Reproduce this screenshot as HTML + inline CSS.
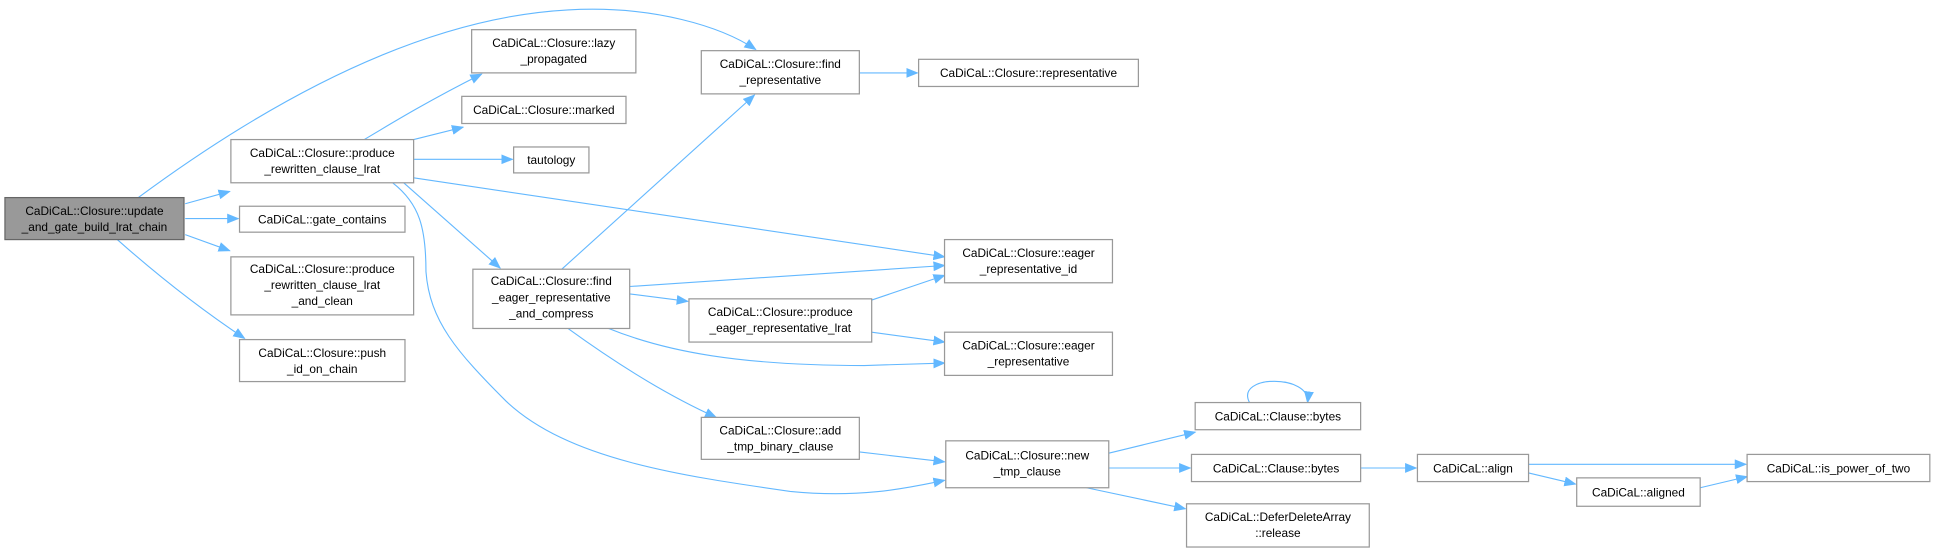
<!DOCTYPE html>
<html><head><meta charset="utf-8"><style>
html,body{margin:0;padding:0;background:#fff;}
svg{display:block;}
text{font-family:"Liberation Sans",Arial,sans-serif;font-size:9.6px;fill:#000;text-anchor:middle;}
.n{fill:#fff;stroke:#999;stroke-width:1;}
.e{fill:none;stroke:#63b8ff;stroke-width:0.9;}
</style></head><body>
<svg width="1936" height="552" viewBox="0 0 1568 447" xmlns="http://www.w3.org/2000/svg">
<defs><marker id="a" markerWidth="10" markerHeight="8" refX="9" refY="4" orient="auto" markerUnits="userSpaceOnUse"><path d="M0,0 L10,4 L0,8 z" fill="#63b8ff"/></marker></defs>
<g marker-end="url(#a)">
<path class="e" d="M112,160 C200,95 330,15 460,8 C530,4 585,22 612,40"/>
<path class="e" d="M150,165 L186,155"/>
<path class="e" d="M150,177 L193,177"/>
<path class="e" d="M150,190 L186,203"/>
<path class="e" d="M95,194 C130,225 165,252 198,274"/>
<path class="e" d="M295,113 C320,98 350,80 390,60"/>
<path class="e" d="M335,113 L375,103"/>
<path class="e" d="M335,129 L415,129"/>
<path class="e" d="M335,144 L765,208"/>
<path class="e" d="M327,148 L405,217"/>
<path class="e" d="M318,148 C340,165 345,185 345,220 C348,260 370,285 410,325 C460,372 550,385 640,398 C700,404 740,394 765,389"/>
<path class="e" d="M455,218 L611,77"/>
<path class="e" d="M510,232 L765,215"/>
<path class="e" d="M510,238 L557,244"/>
<path class="e" d="M493,266 C540,285 600,296 700,296 L765,294"/>
<path class="e" d="M460,266 C500,295 540,320 580,338"/>
<path class="e" d="M706,243 L765,223"/>
<path class="e" d="M706,269 L765,277"/>
<path class="e" d="M696,59 L743,59"/>
<path class="e" d="M696,366 L765,374"/>
<path class="e" d="M898,367 L968,350"/>
<path class="e" d="M898,379 L964,379"/>
<path class="e" d="M880,395 L960,412"/>
<path class="e" d="M1012,326 C1000,303 1062,303 1059,326"/>
<path class="e" d="M1102,379 L1147,379"/>
<path class="e" d="M1238,376 L1414,376"/>
<path class="e" d="M1238,383 L1276,392"/>
<path class="e" d="M1377,395 L1415,386"/>
</g>
<rect x="4" y="160" width="145" height="34" fill="#999" stroke="#666"/>
<text x="76.5" y="174">CaDiCaL::Closure::update</text><text x="76.5" y="187">_and_gate_build_lrat_chain</text>

<rect class="n" x="187" y="113" width="148" height="35"/>
<text x="261" y="127">CaDiCaL::Closure::produce</text><text x="261" y="140">_rewritten_clause_lrat</text>

<rect class="n" x="194" y="167" width="134" height="21"/>
<text x="261" y="181">CaDiCaL::gate_contains</text>

<rect class="n" x="187" y="208" width="148" height="47"/>
<text x="261" y="221">CaDiCaL::Closure::produce</text><text x="261" y="234">_rewritten_clause_lrat</text><text x="261" y="247">_and_clean</text>

<rect class="n" x="194" y="275" width="134" height="34"/>
<text x="261" y="289">CaDiCaL::Closure::push</text><text x="261" y="302">_id_on_chain</text>

<rect class="n" x="382" y="24" width="133" height="35"/>
<text x="448.5" y="38">CaDiCaL::Closure::lazy</text><text x="448.5" y="51">_propagated</text>

<rect class="n" x="374" y="78" width="133" height="22"/>
<text x="440.5" y="92.5">CaDiCaL::Closure::marked</text>

<rect class="n" x="416" y="119" width="61" height="21"/>
<text x="446.5" y="133">tautology</text>

<rect class="n" x="383" y="218" width="127" height="48"/>
<text x="446.5" y="231">CaDiCaL::Closure::find</text><text x="446.5" y="244">_eager_representative</text><text x="446.5" y="257">_and_compress</text>

<rect class="n" x="558" y="242" width="148" height="35"/>
<text x="632" y="256">CaDiCaL::Closure::produce</text><text x="632" y="269">_eager_representative_lrat</text>

<rect class="n" x="568" y="338" width="128" height="34"/>
<text x="632" y="352">CaDiCaL::Closure::add</text><text x="632" y="365">_tmp_binary_clause</text>

<rect class="n" x="568" y="41" width="128" height="35"/>
<text x="632" y="55">CaDiCaL::Closure::find</text><text x="632" y="68">_representative</text>

<rect class="n" x="744" y="48" width="178" height="22"/>
<text x="833" y="62.5">CaDiCaL::Closure::representative</text>

<rect class="n" x="765" y="194" width="136" height="35"/>
<text x="833" y="208">CaDiCaL::Closure::eager</text><text x="833" y="221">_representative_id</text>

<rect class="n" x="765" y="269" width="136" height="35"/>
<text x="833" y="283">CaDiCaL::Closure::eager</text><text x="833" y="296">_representative</text>

<rect class="n" x="766" y="357" width="132" height="38"/>
<text x="832" y="372">CaDiCaL::Closure::new</text><text x="832" y="385">_tmp_clause</text>

<rect class="n" x="968" y="326" width="134" height="22"/>
<text x="1035" y="340.5">CaDiCaL::Clause::bytes</text>

<rect class="n" x="965" y="368" width="137" height="22"/>
<text x="1033.5" y="382.5">CaDiCaL::Clause::bytes</text>

<rect class="n" x="961" y="408" width="148" height="35"/>
<text x="1035" y="422">CaDiCaL::DeferDeleteArray</text><text x="1035" y="435">::release</text>

<rect class="n" x="1148" y="368" width="90" height="22"/>
<text x="1193" y="382.5">CaDiCaL::align</text>

<rect class="n" x="1277" y="387" width="100" height="23"/>
<text x="1327" y="402">CaDiCaL::aligned</text>

<rect class="n" x="1415" y="368" width="148" height="22"/>
<text x="1489" y="382.5">CaDiCaL::is_power_of_two</text>
</svg>
</body></html>
